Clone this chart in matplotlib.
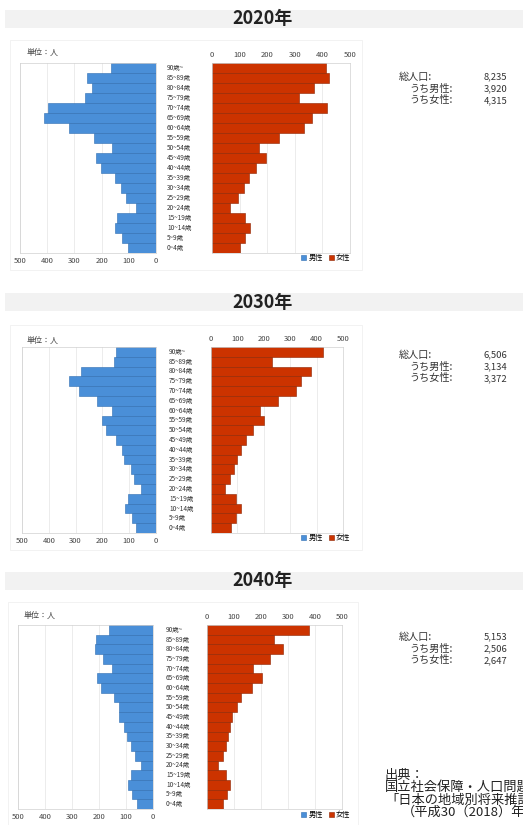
import matplotlib
matplotlib.use("Agg")
import numpy as np
from matplotlib import pyplot as plt
from matplotlib.patches import Rectangle

plt.rcParams['font.family'] = ['Noto Sans CJK JP', 'DejaVu Sans']

# age groups, bottom to top
ages = ["0~4歳", "5~9歳", "10~14歳", "15~19歳", "20~24歳", "25~29歳", "30~34歳",
        "35~39歳", "40~44歳", "45~49歳", "50~54歳", "55~59歳", "60~64歳", "65~69歳",
        "70~74歳", "75~79歳", "80~84歳", "85~89歳", "90歳~"]

years = ["2020年", "2030年", "2040年"]

male_2020 = [103, 125, 149, 143, 74, 109, 128, 151, 203, 219, 163, 228, 321, 412, 397, 261, 237, 254, 167]
female_2020 = [100, 120, 139, 118, 64, 93, 116, 133, 160, 196, 171, 243, 335, 361, 417, 316, 371, 424, 412]
male_2030 = [75, 91, 116, 104, 56, 82, 94, 121, 127, 148, 185, 203, 163, 219, 288, 324, 280, 155, 148]
female_2030 = [77, 95, 112, 96, 53, 73, 86, 98, 115, 133, 158, 202, 184, 253, 322, 341, 379, 231, 423]
male_2040 = [61, 76, 91, 83, 46, 67, 83, 95, 106, 125, 127, 146, 194, 206, 152, 186, 215, 210, 163]
female_2040 = [61, 74, 86, 72, 41, 60, 69, 78, 87, 93, 112, 125, 165, 202, 169, 233, 283, 248, 378]

totals = ["8,235", "6,506", "5,153"]
male_totals = ["3,920", "3,134", "2,506"]
female_totals = ["4,315", "3,372", "2,647"]

male_data = [male_2020, male_2030, male_2040]
female_data = [female_2020, female_2030, female_2040]

W, H = 523, 825
BLUE = '#4A8FD8'
RED = '#CC3300'

fig = plt.figure(figsize=(W / 100, H / 100), dpi=100)


def box(x0, y0, x1, y1):
    # pixel box -> figure coords
    return [x0 / W, 1 - y1 / H, (x1 - x0) / W, (y1 - y0) / H]


# layout of each panel in pixels
panels = [
    dict(band=(10, 28), male=(20, 156), female=(212, 350), ys=(63, 253), unit=(27, 52),
         lab_x=167, leg_y=258, stats_y=77, frame=(10, 40, 362, 270)),
    dict(band=(293, 311), male=(22, 156), female=(211, 343), ys=(347, 533), unit=(27, 340),
         lab_x=169, leg_y=538, stats_y=355, frame=(10, 325, 362, 550)),
    dict(band=(572, 590), male=(18, 153), female=(207, 342), ys=(625, 809), unit=(24, 615),
         lab_x=166, leg_y=815, stats_y=637, frame=(8, 602, 358, 825)),
]

y = np.arange(len(ages))

for i, p in enumerate(panels):
    b0, b1 = p["band"]
    fig.patches.append(Rectangle((5 / W, 1 - b1 / H), (W - 5) / W, (b1 - b0) / H,
                                 transform=fig.transFigure, facecolor='#F2F2F2',
                                 edgecolor='none', zorder=0))
    fig.text(263 / W, 1 - (b0 + b1) / 2 / H, years[i], ha='center', va='center',
             fontsize=13, fontweight='bold', color='#222222')

    fx0, fy0, fx1, fy1 = p["frame"]
    fig.patches.append(Rectangle((fx0 / W, 1 - fy1 / H), (fx1 - fx0) / W, (fy1 - fy0) / H,
                                 transform=fig.transFigure, facecolor='none',
                                 edgecolor='#F0F0F0', lw=0.6, zorder=0))

    y0, y1 = p["ys"]
    axm = fig.add_axes(box(p["male"][0], y0, p["male"][1], y1))
    axf = fig.add_axes(box(p["female"][0], y0, p["female"][1], y1))

    bm = axm.barh(y, male_data[i], height=1.0, color=BLUE, edgecolor='#2F6DB0', lw=0.4, zorder=2)
    bf = axf.barh(y, female_data[i], height=1.0, color=RED, edgecolor='#8C2300', lw=0.4, zorder=2)

    axm.set_xlim(500, 0)
    axf.set_xlim(0, 500)
    for ax in (axm, axf):
        ax.set_ylim(-0.5, len(ages) - 0.5)
        ax.set_yticks([])
        ax.set_xticks(range(0, 501, 100))
        ax.grid(axis='x', color='#E4E4E4', lw=0.5, zorder=0)
        ax.tick_params(axis='x', length=0, labelsize=5.5, colors='#444444', pad=3)
        for s in ax.spines.values():
            s.set_color('#D0D0D0')
            s.set_linewidth(0.5)
    axf.xaxis.tick_top()

    for k, a in enumerate(ages):
        yy = y0 + (y1 - y0) * (len(ages) - 0.5 - k) / len(ages)
        fig.text(p["lab_x"] / W, 1 - yy / H, a, ha='left', va='center',
                 fontsize=4.6, color='#333333')

    fig.text(p["unit"][0] / W, 1 - p["unit"][1] / H, "単位：人", ha='left', va='center',
             fontsize=5.8, color='#444444')

    axf.legend([bm, bf], ["男性", "女性"], loc='center right', ncol=2, frameon=False,
               fontsize=5.2, handlelength=0.7, handleheight=0.7, handletextpad=0.3,
               columnspacing=0.8, borderpad=0,
               bbox_to_anchor=(354 / W, 1 - p["leg_y"] / H), bbox_transform=fig.transFigure)

    sy = p["stats_y"]
    rows = [("総人口:", totals[i], 399), ("うち男性:", male_totals[i], 409),
            ("うち女性:", female_totals[i], 409)]
    for r, (lab, val, lx) in enumerate(rows):
        yy = 1 - (sy + r * 11.7) / H
        fig.text(lx / W, yy, lab, ha='left', va='center', fontsize=7.3, color='#333333')
        fig.text(507 / W, yy, val, ha='right', va='center', fontsize=6.8, color='#333333')

# source note (runs past the right edge, as in the original)
src = ["出典：", "国立社会保障・人口問題研究所", "「日本の地域別将来推計人口」", "（平成30（2018）年推計）"]
src_x = [385, 385, 385, 402]
for r, line in enumerate(src):
    fig.text(src_x[r] / W, 1 - (775 + r * 12.5) / H, line, ha='left', va='center',
             fontsize=9.5, color='#222222')

fig.savefig("out.png", dpi=100)
